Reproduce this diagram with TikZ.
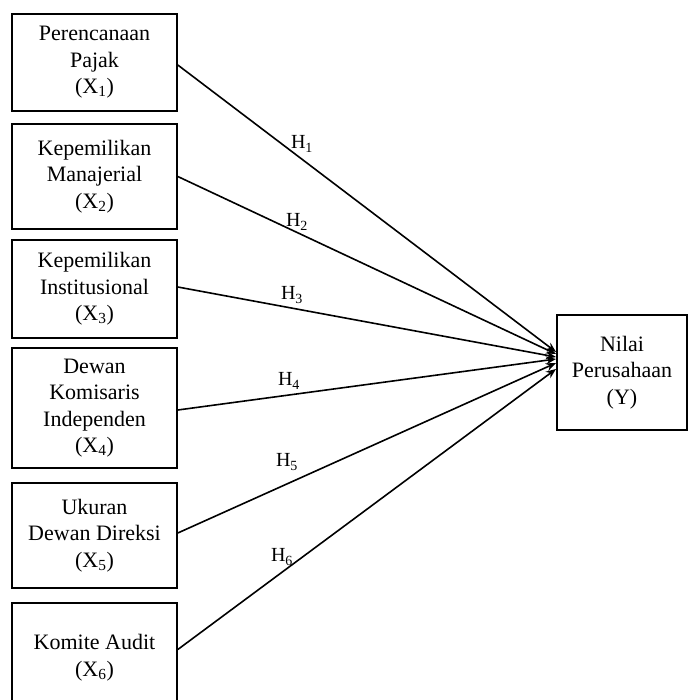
\documentclass[tikz,border=0pt]{standalone}
\usepackage{fontspec}
\setmainfont{Liberation Serif}
\usetikzlibrary{arrows.meta}
\begin{document}
\begin{tikzpicture}[x=1pt,y=-1pt,
  var/.style={draw,line width=1.6pt,rectangle,align=center,inner sep=0pt,
    font=\fontsize{22}{26.5}\selectfont},
  link/.style={line width=1.6pt,-{Stealth[length=10pt,width=8pt]}},
  hyp/.style={inner sep=0pt,font=\fontsize{20}{22}\selectfont}]
\useasboundingbox (0,0) rectangle (688,700);
\begin{scope}
\clip (0,0) rectangle (688,700);
\node[var,minimum width=165pt,minimum height=97pt] (b1) at (94.5,62.5) {Perencanaan\\Pajak\\(X\textsubscript{1})};
\node[var,minimum width=165pt,minimum height=105pt] (b2) at (94.5,176.5) {Kepemilikan\\Manajerial\\(X\textsubscript{2})};
\node[var,minimum width=165pt,minimum height=98pt] (b3) at (94.5,289) {Kepemilikan\\Institusional\\(X\textsubscript{3})};
\node[var,minimum width=165pt,minimum height=120pt] (b4) at (94.5,408) {Dewan\\Komisaris\\Independen\\(X\textsubscript{4})};
\node[var,minimum width=165pt,minimum height=105pt] (b5) at (94.5,535.5) {Ukuran\\Dewan Direksi\\(X\textsubscript{5})};
\node[var,minimum width=165pt,minimum height=109pt] (b6) at (94.5,657.5) {Komite Audit\\(X\textsubscript{6})};
\node[var,minimum width=130pt,minimum height=115pt] (y) at (622,372.5) {Nilai\\Perusahaan\\(Y)};
\end{scope}
\coordinate (e1) at (556,352);
\coordinate (e2) at (556,354);
\coordinate (e3) at (556,357);
\coordinate (e4) at (556,359);
\coordinate (e5) at (556,363);
\coordinate (e6) at (556,369);
\draw[link] ([yshift=-2.5pt]b1.east) -- (e1);
\draw[link] (b2.east) -- (e2);
\draw[link] ([yshift=2pt]b3.east) -- (e3);
\draw[link] ([yshift=-2pt]b4.east) -- (e4);
\draw[link] ([yshift=2.5pt]b5.east) -- (e5);
\draw[link] ([yshift=8pt]b6.east) -- (e6);
\node[hyp] (h1) at (302,144) {H\textsubscript{1}};
\node[hyp] (h2) at (297,222) {H\textsubscript{2}};
\node[hyp] (h3) at (292,295) {H\textsubscript{3}};
\node[hyp] (h4) at (289,381) {H\textsubscript{4}};
\node[hyp] (h5) at (287,462) {H\textsubscript{5}};
\node[hyp] (h6) at (282,557) {H\textsubscript{6}};
\end{tikzpicture}
\end{document}
